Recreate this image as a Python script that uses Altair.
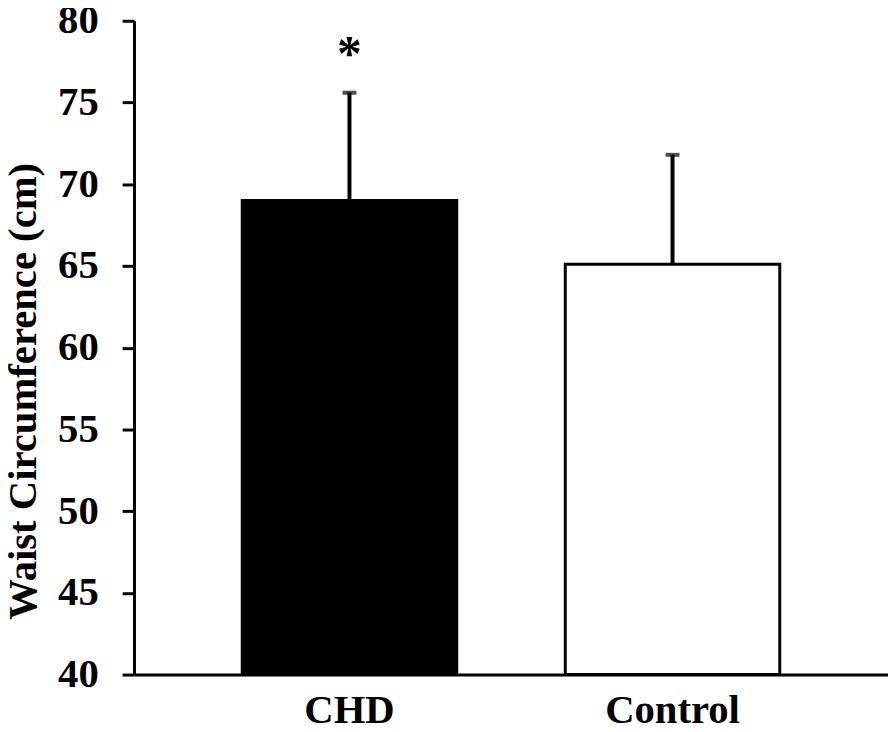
import altair as alt
import pandas as pd

groups = ["CHD", "Control"]
means = [69.0, 65.1]
upper = [75.6, 71.8]
fills = ["#000000", "#ffffff"]
star_groups = ["CHD"]
star_y = [77.0]
star_text = ["*"]
y_ticks = [40, 45, 50, 55, 60, 65, 70, 75, 80]

df = pd.DataFrame({"group": groups, "mean": means, "upper": upper, "fill": fills})
df_star = pd.DataFrame({"group": star_groups, "pos": star_y, "txt": star_text})

FONT = "Liberation Serif"

x_enc = alt.X(
    "group:N",
    sort=groups,
    scale=alt.Scale(paddingInner=0.336, paddingOuter=0.335),
    axis=alt.Axis(
        title=None, ticks=False, labelAngle=0, labelPadding=16,
        labelFontSize=41, domainWidth=3, domainColor="black",
    ),
)
y_axis = alt.Axis(
    values=y_ticks, title="Waist Circumference (cm)", grid=False,
    tickSize=12, tickWidth=3, tickColor="black", domainWidth=3,
    domainColor="black", labelFontSize=41, labelPadding=24,
    titleFontSize=41, titleX=-111, titleY=373, titleAlign="center",
    titleBaseline="middle", titleAngle=-90,
)
y_scale = alt.Scale(domain=[40, 80], zero=False, nice=False)

bars = alt.Chart(df).mark_bar(stroke="black", strokeWidth=3).encode(
    x=x_enc,
    y=alt.Y("mean:Q", scale=y_scale, axis=y_axis),
    y2=alt.datum(40),
    fill=alt.Fill("fill:N", scale=None),
)

rules = alt.Chart(df).mark_rule(color="black", strokeWidth=4).encode(
    x=x_enc,
    y=alt.Y("mean:Q", scale=y_scale, axis=y_axis),
    y2="upper:Q",
)

caps = alt.Chart(df).mark_tick(color="black", size=14, thickness=4).encode(
    x=x_enc,
    y=alt.Y("upper:Q", scale=y_scale, axis=y_axis),
)

stars = alt.Chart(df_star).mark_text(
    fontSize=50, fontWeight="bold", font=FONT, baseline="alphabetic", color="black"
).encode(
    x=x_enc,
    y=alt.Y("pos:Q", scale=y_scale, axis=y_axis),
    text="txt:N",
)

chart = (
    alt.layer(bars, rules, caps, stars)
    .properties(
        width=760, height=659,
        autosize=alt.AutoSizeParams(type="none"),
        padding={"left": 127, "top": 10, "right": 0, "bottom": 55},
        background="white",
    )
    .configure_view(stroke=None)
    .configure_axis(
        labelFont=FONT, labelFontWeight="bold", labelColor="black",
        titleFont=FONT, titleFontWeight="bold", titleColor="black",
    )
)

chart.save("out.html", embed_options={"renderer": "svg", "actions": False})
